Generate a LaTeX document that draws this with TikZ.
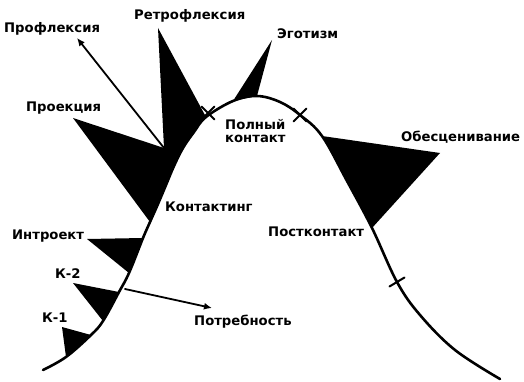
\documentclass[tikz,border=0pt]{standalone}
\usepackage{fontspec}
\setmainfont{DejaVu Sans}
\usetikzlibrary{arrows.meta,calc}

\begin{document}
\begin{tikzpicture}[x=1pt, y=-1pt, line join=round, line cap=round,
    lbl/.style={font=\fontsize{13.2}{13.5}\selectfont\bfseries, inner sep=0pt, anchor=west},
    arr/.style={line width=1.8pt, -{Latex[length=8pt,width=7pt]}},
    crossmark/.style={line width=2pt}]
      \useasboundingbox (0,0) rectangle (524,382);
      \def\xs{6.5}

      % points on the curve
      \coordinate (A) at (66,357);
      \coordinate (B) at (91,335);
      \coordinate (C) at (103,321);
      \coordinate (D) at (119,292);
      \coordinate (E) at (129,273);
      \coordinate (F) at (143,238);
      \coordinate (G) at (150,222);
      \coordinate (H) at (206,117);
      \coordinate (I) at (233,101);
      \coordinate (J) at (257,96);
      \coordinate (K) at (322,136);
      \coordinate (L) at (372,228);

      % Fill triangles (K-1, K-2, introject)
      \fill (62,327) -- (B) -- (A) -- cycle;
      \fill (73,283) -- (D) -- (C) -- cycle;
      \fill (87,239) -- (F) -- (E) -- cycle;
      % Fill retroflexion + projection
      \fill (158,28) -- (H) -- (194,132) -- (183,148) -- (174,166) -- (166,185)
            -- (158,204) -- (G) -- (73,118) -- (164,148) -- cycle;
      % Fill egotism and devaluation
      \fill (272,40) -- (J) -- (I) -- cycle;
      \fill (K) -- (440,153) -- (L) -- cycle;

      % the curve
      \draw[line width=2.6pt] plot[smooth, tension=0.6] coordinates {
        (43,370) (A) (B) (C) (D) (E) (F) (G) (158,204) (166,185) (174,166)
        (183,148) (194,132) (H) (I) (J) (280,102) (300,115) (K) (347,181)
        (L) (397,282) (420,315) (455,350) (500,379)};

      % marks on the curve
      \coordinate (x1) at (208,113);
      \coordinate (x2) at (300,115);
      \coordinate (x3) at (397,282);
      \draw[crossmark] ($(x1)+(-\xs,-\xs)$) -- ($(x1)+(\xs,\xs)$) ($(x1)+(-\xs,\xs)$) -- ($(x1)+(\xs,-\xs)$);
      \draw[crossmark] ($(x2)+(-\xs,-\xs)$) -- ($(x2)+(\xs,\xs)$) ($(x2)+(-\xs,\xs)$) -- ($(x2)+(\xs,-\xs)$);
      \draw[crossmark] ($(x3)+(-7.5,4.5)$) -- ($(x3)+(7.5,-4.5)$);

      % labels
      \node[lbl] (proflex) at (4,29) {Профлексия};
      \node[lbl] (retroflex) at (134,16) {Ретрофлексия};
      \node[lbl] (egotism) at (277,34) {Эготизм};
      \node[lbl] (projection) at (26,108) {Проекция};
      \node[lbl, align=left] (fullcontact) at (225,131) {Полный\\контакт};
      \node[lbl] (devaluation) at (401,137) {Обесценивание};
      \node[lbl] (contacting) at (165,207) {Контактинг};
      \node[lbl] (postcontact) at (268,232) {Постконтакт};
      \node[lbl] (introject) at (12,236) {Интроект};
      \node[lbl] (ktwo) at (55,274) {К-2};
      \node[lbl] (kone) at (42,318) {К-1};
      \node[lbl] (need) at (194,322) {Потребность};

      % arrows
      \coordinate (pfbase) at (164,148);
      \coordinate (pftip) at (77,38);
      \coordinate (ndbase) at (125,289);
      \coordinate (ndtip) at (212,308);
      \draw[arr] (pfbase) -- (pftip);
      \draw[arr] (ndbase) -- (ndtip);

    \end{tikzpicture}
\end{document}
